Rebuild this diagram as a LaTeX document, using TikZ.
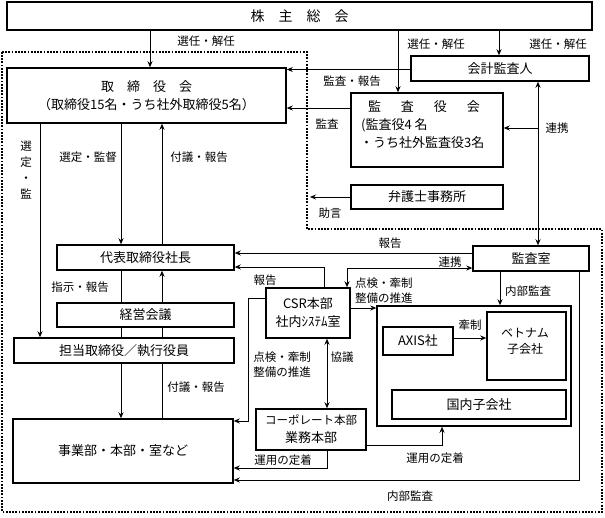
\documentclass[tikz,border=0pt]{standalone}
\usepackage{fontspec}
\setmainfont{Noto Sans CJK JP}
\usetikzlibrary{arrows.meta}
\begin{document}
\begin{tikzpicture}[x=1pt,y=-1pt,
  box/.style={draw, line width=1.5pt, inner sep=0pt, align=center, font=\fontsize{13}{18}\selectfont},
  txt/.style={inner sep=0pt, align=center, font=\fontsize{13}{18}\selectfont},
  lbl/.style={inner sep=0pt, align=center, font=\fontsize{11.5}{15}\selectfont},
  ln/.style={line width=0.8pt},
  arr/.style={ln, -{Stealth[length=6pt,width=5pt]}},
  arrb/.style={ln, {Stealth[length=6pt,width=5pt]}-{Stealth[length=6pt,width=5pt]}},
  dotbord/.style={line width=2.4pt, dash pattern=on 1.8pt off 1.4pt}]
\useasboundingbox (0,0) rectangle (605,517);

% dotted boundary
\draw[dotbord] (2,52) -- (307,52) -- (307,229) -- (602,229) -- (602,512) -- (2,512) -- cycle;

% boxes
\node[box, minimum width=585pt, minimum height=28pt, font=\fontsize{14}{18}\selectfont] (soukai) at (299.5,16) {株　主　総　会};
\node[box, minimum width=279pt, minimum height=55pt] (torishimari) at (146.5,95.5) {取　締　役　会\\（取締役15名・うち社外取締役5名）};
\node[box, minimum width=178pt, minimum height=25pt] (kaikei) at (500,68.5) {会計監査人};
\node[box, minimum width=152pt, minimum height=74pt] (kansayaku) at (427,130) {};
\node[txt] (ks1) at (424,107) {監\hspace{20pt}査\hspace{20pt}役\hspace{20pt}会};
\node[txt, anchor=west] (ks2) at (361,125) {(監査役4 名};
\node[txt, anchor=west] (ks3) at (360,143) {・うち社外監査役3名};
\node[box, minimum width=152pt, minimum height=24pt] (bengoshi) at (427,197) {弁護士事務所};
\node[box, minimum width=177pt, minimum height=25pt] (daihyo) at (145.5,257.5) {代表取締役社長};
\node[box, minimum width=177pt, minimum height=24pt] (keiei) at (145.5,315) {経営会議};
\node[box, minimum width=220pt, minimum height=25pt] (tanto) at (124,350.5) {担当取締役／執行役員};
\node[box, minimum width=220pt, minimum height=64pt] (jigyo) at (123,451) {事業部・本部・室など};
\node[box, minimum width=116pt, minimum height=25pt] (kansashitsu) at (531,258.5) {監査室};
\node[box, minimum width=84pt, minimum height=50pt] (csr) at (308,313) {CSR本部\\社内ｼｽﾃﾑ室};
\node[box, minimum width=110pt, minimum height=41pt] (corp) at (311,429.5) {{\fontsize{11.5}{14}\selectfont コーポレート本部}\\業務本部};
\node[box, minimum width=194pt, minimum height=120pt] (bigbox) at (474,366) {};
\node[box, minimum width=70pt, minimum height=28pt] (axis) at (418,341) {AXIS社};
\node[box, minimum width=79pt, minimum height=68pt] (vietnam) at (526.5,346) {};
\node[txt, font=\fontsize{12}{16}\selectfont] (vnt) at (525,341) {ベトナム\\子会社};
\node[box, minimum width=174pt, minimum height=29pt] (kokunai) at (479,404.5) {国内子会社};

% free ends
\coordinate (j1) at (538,128);
\coordinate (j2) at (310,197);
\coordinate (cl) at (248,298);

% connectors from 株主総会
\draw[arr] (soukai.south -| 150,0) -- (torishimari.north -| 150,0);
\draw[arr] (soukai.south -| 398,0) -- (kansayaku.north -| 398,0);
\draw[arr] (soukai.south -| 499,0) -- (kaikei.north -| 499,0);
% audit lines to board
\draw[arr] (kaikei.west |- 0,69.5) -- (torishimari.east |- 0,69.5);
\draw[arr] (kansayaku.west |- 0,108) -- (torishimari.east |- 0,108);
\draw[arrb] (kaikei.south -| 538,0) -- (kansashitsu.north -| 538,0);
\draw[arr] (j1) -- (kansayaku.east |- j1);
\draw[arr] (bengoshi.west) -- (j2);

% left column
\draw[arr] (torishimari.south -| 40,0) -- (tanto.north -| 40,0);
\draw[arr] (torishimari.south -| 121,0) -- (daihyo.north -| 121,0);
\draw[arr] (daihyo.north -| 162,0) -- (torishimari.south -| 162,0);
\draw[ln] (daihyo.south -| 121,0) -- (keiei.north -| 121,0);
\draw[arr] (keiei.north -| 162,0) -- (daihyo.south -| 162,0);
\draw[ln] (keiei.south -| 121,0) -- (tanto.north -| 121,0);
\draw[ln] (keiei.south -| 162,0) -- (tanto.north -| 162,0);
\draw[arr] (tanto.south -| 121,0) -- (jigyo.north -| 121,0);
\draw[ln] (tanto.south -| 162,0) -- (jigyo.north -| 162,0);

% middle / right
\draw[arr] (kansashitsu.west |- 0,253) -- (daihyo.east |- 0,253);
\draw[arrb] (csr.north -| 347,0) |- (kansashitsu.west |- 0,268);
\draw[arr] (csr.north -| 324,0) |- (daihyo.east |- 0,267);
\draw[arr] (csr.west |- cl) -- (cl) |- (jigyo.east |- 0,421);
\draw[arr] (csr.east |- 0,308) -- (bigbox.west |- 0,308);
\draw[arrb] (csr.south -| 327,0) -- (corp.north -| 327,0);
\draw[arr] (kansashitsu.south -| 500,0) -- (bigbox.north -| 500,0);
\draw[arr] (axis.east |- 0,338) -- (vietnam.west |- 0,338);
\draw[arr] (corp.south -| 327,0) |- (jigyo.east |- 0,468);
\draw[arr] (corp.east |- 0,445) -| (bigbox.south -| 442,0);
\draw[arr] (kansashitsu.south -| 579,0) |- (jigyo.east |- 0,480);

% labels
\node[lbl] (l1) at (206,41) {選任・解任};
\node[lbl] (l2) at (436,44) {選任・解任};
\node[lbl] (l3) at (558,44) {選任・解任};
\node[lbl] (l4) at (352,81) {監査・報告};
\node[lbl] (l5) at (327,124) {監査};
\node[lbl] (l6) at (557,128) {連携};
\node[lbl] (l7) at (330,213) {助言};
\node[lbl, font=\fontsize{11.5}{16}\selectfont] (l8) at (26,170) {選\\定\\・\\監};
\node[lbl] (l9) at (88,157) {選定・監督};
\node[lbl] (l10) at (199,157) {付議・報告};
\node[lbl] (l11) at (80,287) {指示・報告};
\node[lbl] (l12) at (390,243) {報告};
\node[lbl] (l13) at (265,280) {報告};
\node[lbl] (l14) at (450,262) {連携};
\node[lbl, align=left, anchor=west] (l15) at (355,290.5) {点検・牽制\\整備の推進};
\node[lbl, align=left] (l16) at (282,364.5) {点検・牽制\\整備の推進};
\node[lbl] (l17) at (342,357) {協議};
\node[lbl] (l18) at (528,291) {内部監査};
\node[lbl] (l19) at (470,325) {牽制};
\node[lbl] (l20) at (196,387) {付議・報告};
\node[lbl] (l21) at (283,460) {運用の定着};
\node[lbl] (l22) at (435,458) {運用の定着};
\node[lbl] (l23) at (410,496) {内部監査};
\end{tikzpicture}
\end{document}
